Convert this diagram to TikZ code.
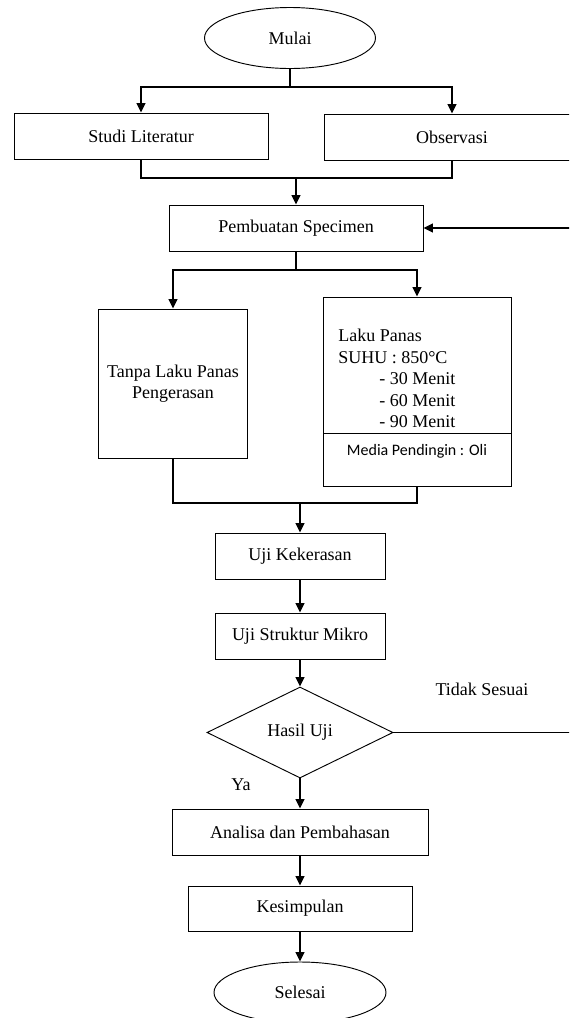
\documentclass[tikz,border=0pt]{standalone}
\usepackage{fontspec}
\setmainfont{Liberation Serif}
\newfontfamily\calibrifont{Carlito}
\usetikzlibrary{shapes.geometric,arrows.meta,positioning}

\tikzset{
  kotak/.style={draw, line width=0.7pt, inner sep=0pt, minimum height=34.5pt, align=center},
  terminal/.style={draw, ellipse, line width=0.7pt, inner sep=0pt, minimum width=128.25pt, minimum height=45.75pt},
  keputusan/.style={draw, diamond, line width=0.7pt, inner sep=0pt, aspect=2.04, minimum width=139.5pt, minimum height=68.25pt},
  panah/.style={line width=1.2pt, -{Triangle[length=7pt,width=6.5pt]}},
  garis/.style={line width=1.2pt}
}

\begin{document}
\begin{tikzpicture}[x=0.75pt, y=-0.75pt, font=\fontsize{13.5}{16}\selectfont]
\useasboundingbox (0,0) rectangle (569,1018);
\clip (0,0) rectangle (569,1018);

\node[terminal] (mulai) at (290,38) {Mulai};
\node[kotak, minimum width=190.5pt] (studi) at (141,136) {Studi Literatur};
\node[kotak, minimum width=192pt] (observasi) at (452,137) {Observasi};
\node[kotak, minimum width=190.5pt] (specimen) at (296,228) {Pembuatan Specimen};
\node[kotak, minimum width=111.75pt, minimum height=111.75pt, font=\fontsize{13.5}{15.75}\selectfont] (tanpa) at (173,383.5) {Tanpa Laku Panas\\Pengerasan};
\node[kotak, minimum width=141pt, minimum height=102pt] (laku) at (417,365) {};
\node[align=left, anchor=north west, inner sep=0pt, font=\fontsize{13.5}{16.1}\selectfont] (lakuteks) at (338,329)
  {Laku Panas\\SUHU : 850°C\\\hspace*{30.75pt}- 30 Menit\\\hspace*{30.75pt}- 60 Menit\\\hspace*{30.75pt}- 90 Menit};
\node[kotak, minimum width=141pt, minimum height=39.75pt, text height=8pt, text depth=13.5pt, font=\calibrifont\fontsize{12}{14}\selectfont] (media) at (417,459.5) {Media Pendingin : Oli};
\node[kotak, minimum width=127.5pt] (kekerasan) at (300,556) {Uji Kekerasan};
\node[kotak, minimum width=127.5pt] (mikro) at (300,636) {Uji Struktur Mikro};
\node[keputusan] (hasil) at (300,732.5) {Hasil Uji};
\node[kotak, minimum width=192pt] (analisa) at (300,832) {Analisa dan Pembahasan};
\node[kotak, minimum width=168pt, minimum height=33.75pt] (simpulan) at (300,908.5) {Kesimpulan};
\node[terminal, minimum width=129pt] (selesai) at (300,992.5) {Selesai};
\node (tidak) at (482,689) {Tidak Sesuai};
\node (ya) at (241,785) {Ya};

\coordinate (cabang1) at (290,87);
\coordinate (gabung1) at (296,178);
\coordinate (cabang2) at (296,270);
\coordinate (gabung2) at (300,503);
\coordinate (balik) at (590,732.5);

\draw[garis] (mulai.south) -- (cabang1);
\draw[panah] (cabang1) -| (studi.north);
\draw[panah] (cabang1) -| (observasi.north);
\draw[garis] (studi.south) |- (gabung1);
\draw[garis] (observasi.south) |- (gabung1);
\draw[panah] (gabung1) -- (specimen.north);
\draw[garis] (specimen.south) -- (cabang2);
\draw[panah] (cabang2) -| (tanpa.north);
\draw[panah] (cabang2) -| (laku.north);
\draw[garis] (tanpa.south) |- (gabung2);
\draw[garis] (media.south) |- (gabung2);
\draw[panah] (gabung2) -- (kekerasan.north);
\draw[panah] (kekerasan) -- (mikro);
\draw[panah] (mikro) -- (hasil);
\draw[panah] (hasil) -- (analisa);
\draw[panah] (analisa) -- (simpulan);
\draw[panah] (simpulan) -- (selesai);
\draw[panah] (hasil.east) -- (balik) |- (specimen.east);

\end{tikzpicture}
\end{document}
